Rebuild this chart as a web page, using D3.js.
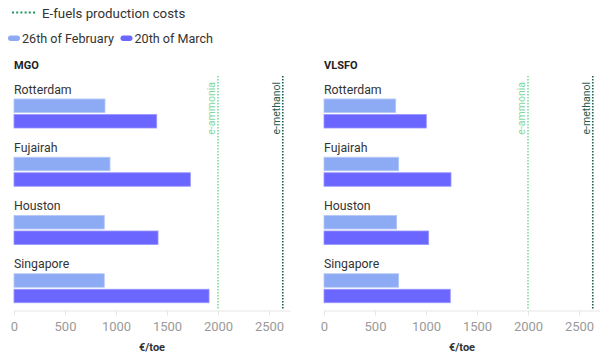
<!DOCTYPE html>
<html><head><meta charset="utf-8">
<script src="https://cdn.jsdelivr.net/npm/d3@7"></script>
<style>body{margin:0;background:#fff;font-family:Roboto,sans-serif;}</style>
</head><body><svg id="c" width="600" height="357"></svg>
<script>
const ports = ["Rotterdam","Fujairah","Houston","Singapore"];
const panels = ["MGO","VLSFO"];
const seriesNames = ["26th of February","20th of March"];
const mgoFeb = [892, 941, 885, 885];
const mgoMar = [1399, 1729, 1412, 1912];
const vlsfoFeb = [703, 732, 712, 732];
const vlsfoMar = [1003, 1245, 1026, 1238];
const efuelNames = ["e-ammonia","e-methanol"];
const efuelCosts = [2000, 2635];
const xTicks = [0, 500, 1000, 1500, 2000, 2500];
const axisTitle = "€/toe";
const legendTitle = "E-fuels production costs";

const colors = ["#8dabf4", "#6b66ff"];
const efColors = ["#7fd99a", "#245c4c"];
const svg = d3.select("#c");

// legend
const lg = svg.append("g");
lg.append("line").attr("x1",12).attr("x2",36).attr("y1",12.5).attr("y2",12.5)
  .attr("stroke","#1e9a5c").attr("stroke-width",2.2).attr("stroke-dasharray","2,2.2");
lg.append("text").attr("x",42).attr("y",17.5).attr("font-size",13.3).attr("fill","#333").text(legendTitle);
let lx = 8;
seriesNames.forEach((n,i)=>{
  lg.append("rect").attr("x",lx).attr("y",35.5).attr("width",12).attr("height",5.5).attr("rx",2.75).attr("fill",colors[i]);
  const t = lg.append("text").attr("x",lx+14).attr("y",43).attr("font-size",12.6).attr("fill","#333").text(n);
  lx += 14 + t.node().getComputedTextLength() + 6.5;
});

const panelData = [[mgoFeb, mgoMar],[vlsfoFeb, vlsfoMar]];
const panelX0 = [14, 324];
panels.forEach((p,pi)=>{
  const x0 = panelX0[pi];
  const x = d3.scaleLinear().domain([0,2500]).range([x0, x0+255]);
  const y = d3.scaleBand().domain(ports).range([80,313]).paddingInner(0).paddingOuter(0);
  const g = svg.append("g");
  g.append("text").attr("x",x0).attr("y",69).attr("font-size",11).attr("font-weight","bold").attr("fill","#222").text(p);
  // axis
  const axis = d3.axisBottom(x).tickValues(xTicks).tickSize(5).tickPadding(6).tickFormat(d3.format("d"));
  const ag = g.append("g").attr("transform","translate(0,310.5)").call(axis);
  ag.select(".domain").attr("stroke","#e6e6e6").attr("d",`M${x0},0.5H${x0+276}`);
  ag.selectAll(".tick line").attr("stroke","#e6e6e6");
  ag.selectAll(".tick text").attr("font-size",13).attr("fill","#9a9a9a").attr("font-family","Roboto,sans-serif");
  g.append("text").attr("x",x0+138).attr("y",351).attr("text-anchor","middle").attr("font-size",11).attr("font-weight","bold").attr("fill","#333").text(axisTitle);
  // e-fuel lines
  efuelCosts.forEach((c,i)=>{
    const xx = x(c);
    g.append("line").attr("x1",xx).attr("x2",xx).attr("y1",76).attr("y2",310)
      .attr("stroke",efColors[i]).attr("stroke-width",1.6).attr("stroke-dasharray","1.5,1.5");
    g.append("text").attr("transform",`translate(${xx-3},${82}) rotate(-90)`).attr("text-anchor","end")
      .attr("font-size",10.5).attr("fill",efColors[i]).text(efuelNames[i]);
  });
  ports.forEach((port,ci)=>{
    const yb = y(port);
    g.append("text").attr("x",x0).attr("y",yb+13.5).attr("font-size",12.3).attr("fill","#333").text(port);
    panelData[pi].forEach((arr,si)=>{
      g.append("rect").attr("x",x(0)).attr("y",yb+19+si*15.5).attr("width",x(arr[ci])-x(0)).attr("height",13.5)
        .attr("fill",colors[si]).attr("stroke", si==0?"#b3c6f7":"#9a96ff").attr("stroke-width",0.8);
    });
  });
});
</script></body></html>
